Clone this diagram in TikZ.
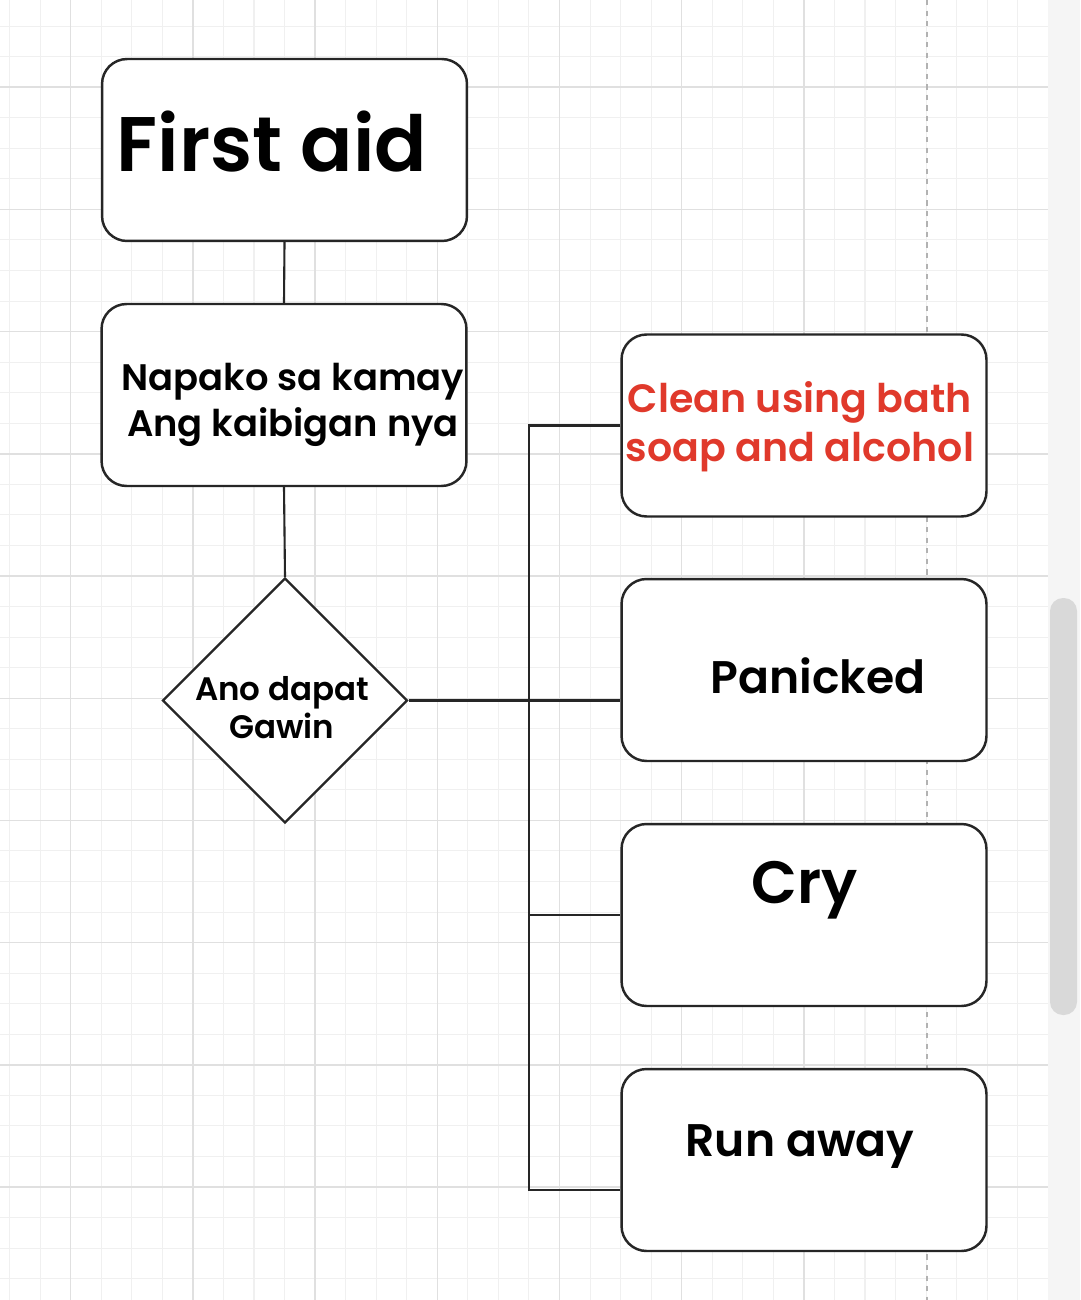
\documentclass[tikz,border=0pt]{standalone}
\usepackage{fontspec}
\setmainfont{Poppins}[BoldFont={Poppins SemiBold}]
\usetikzlibrary{shapes.geometric}
\definecolor{cleanred}{HTML}{E0392B}

\begin{document}
\begin{tikzpicture}[x=0.02cm, y=-0.02cm,
    box/.style={draw=black!85, line width=1.4pt, rounded corners=0.5cm, fill=white,
      minimum width=7.3cm, minimum height=3.64cm, inner sep=0pt},
    decision/.style={diamond, draw=black!85, line width=1.3pt, fill=white,
      minimum width=4.9cm, minimum height=4.9cm, inner sep=0pt},
    txt/.style={align=center, inner sep=0pt},
    link/.style={draw=black!85, line width=1.2pt},
    minorgrid/.style={draw=black!6, line width=0.6pt},
    majorgrid/.style={draw=black!12, line width=0.8pt}]
    \useasboundingbox (0,0) rectangle (1080,1300);
    \fill[white] (0,0) rectangle (1080,1300);

    % グリッド
    \foreach \i in {0,...,33}
      \draw[minorgrid] ({9.6+30.55*\i},0) -- ++(0,1300);
    \foreach \j in {0,...,41}
      \draw[minorgrid] (0,{26.1+30.55*\j}) -- (1048,{26.1+30.55*\j});
    \foreach \i in {0,...,6}
      \draw[majorgrid] ({70.7+122.2*\i},0) -- ++(0,1300);
    \foreach \j in {0,...,9}
      \draw[majorgrid] (0,{87.2+122.2*\j}) -- (1048,{87.2+122.2*\j});
    \draw[black!30, line width=0.8pt, dashed] (927,0) -- (927,1300);
    \fill[black!4] (1048,0) rectangle (1080,1300);
    \fill[black!15, rounded corners=0.26cm] (1050,598) rectangle (1077,1015);

    \node[box] (fa) at (284.5, 150) {};
    \node[box] (np) at (284, 395) {};
    \node[decision] (dm) at (285, 700.5) {};
    \node[box] (cl) at (804, 425.5) {};
    \node[box] (pn) at (804, 670) {};
    \node[box] (cr) at (804, 915) {};
    \node[box] (ra) at (804, 1160) {};

    \node[txt, font=\bfseries\fontsize{44}{50}\selectfont] (fat) at (272, 142) {First aid};
    \node[txt, font=\bfseries\fontsize{21}{26}\selectfont] (npt) at (293, 405) {Napako sa kamay\\Ang kaibigan nya};
    \node[txt, font=\bfseries\fontsize{18.5}{21.5}\selectfont] (dmt) at (282, 708) {Ano dapat\\Gawin};
    \node[txt, text=cleanred, font=\bfseries\fontsize{22.5}{28}\selectfont] (clt) at (800, 427) {Clean using bath\\soap and alcohol};
    \node[txt, font=\bfseries\fontsize{26}{30}\selectfont] (pnt) at (818, 676) {Panicked};
    \node[txt, font=\bfseries\fontsize{34}{38}\selectfont] (crt) at (805, 890) {Cry};
    \node[txt, font=\bfseries\fontsize{26}{30}\selectfont] (rat) at (800, 1147) {Run away};

    % 線を引く
    \coordinate (bus) at (529, 425);
    \coordinate (rj) at (620, 1190);
    \draw[link] (fa.south) -- (np.north);
    \draw[link] (np.south) -- (dm.north);
    \draw[link] (dm.east) -- (dm.east -| pn.west);
    \draw[link] (cl.west) -- (bus |- cl.west) -- (bus |- rj) -- (rj);
    \draw[link] (bus |- cr.west) -- (cr.west);

\end{tikzpicture}
\end{document}
